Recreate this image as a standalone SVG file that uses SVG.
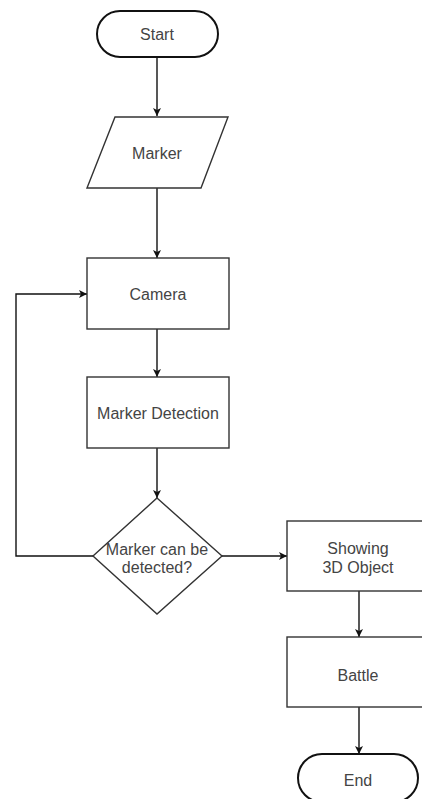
<svg xmlns="http://www.w3.org/2000/svg" width="422" height="799" viewBox="0 0 422 799">
<style>
.shape{fill:#ffffff;stroke:#333333;stroke-width:1.4}
.term{fill:#ffffff;stroke:#111111;stroke-width:2}
.lbl{font-family:"Liberation Sans",Arial,sans-serif;font-size:16px;fill:#444444;text-anchor:middle;dominant-baseline:central}
.edge{fill:none;stroke:#111111;stroke-width:1.4;marker-end:url(#ah)}
</style>
<defs>
<marker id="ah" viewBox="0 0 10 10" refX="10" refY="5" markerWidth="8" markerHeight="8" markerUnits="userSpaceOnUse" orient="auto">
<path d="M0,0 L10,5 L0,10 L2.5,5 z" fill="#111111"/>
</marker>
</defs>
<rect width="422" height="799" fill="#ffffff"/>
<g id="connectors">
<line class="edge" x1="157" y1="57" x2="157" y2="116"/>
<line class="edge" x1="157" y1="188" x2="157" y2="258"/>
<line class="edge" x1="157" y1="329" x2="157" y2="377"/>
<line class="edge" x1="157" y1="448" x2="157" y2="498"/>
<polyline class="edge" points="93,556 16,556 16,294 87,294"/>
<line class="edge" x1="222" y1="556" x2="287" y2="556"/>
<line class="edge" x1="359" y1="591" x2="359" y2="637"/>
<line class="edge" x1="359" y1="707" x2="359" y2="754"/>
</g>
<g id="start">
<rect class="term" x="97" y="11" width="121" height="46" rx="23" ry="23"/>
<text class="lbl" x="157" y="34">Start</text>
</g>
<g id="marker">
<polygon class="shape" points="115,117 228,117 201,188 87,188"/>
<text class="lbl" x="157" y="153">Marker</text>
</g>
<g id="camera">
<rect class="shape" x="87" y="258" width="142" height="71"/>
<text class="lbl" x="158" y="294">Camera</text>
</g>
<g id="detection">
<rect class="shape" x="87" y="377" width="142" height="71"/>
<text class="lbl" x="158" y="413">Marker Detection</text>
</g>
<g id="decision">
<polygon class="shape" points="157,498 222,556 157,614 93,556"/>
<text class="lbl" x="157" y="549">Marker can be</text>
<text class="lbl" x="157" y="567">detected?</text>
</g>
<g id="showing">
<rect class="shape" x="287" y="521" width="144" height="70"/>
<text class="lbl" x="358" y="548">Showing</text>
<text class="lbl" x="358" y="567">3D Object</text>
</g>
<g id="battle">
<rect class="shape" x="287" y="637" width="144" height="70"/>
<text class="lbl" x="358" y="675">Battle</text>
</g>
<g id="end">
<rect class="term" x="298" y="754" width="120" height="48" rx="24" ry="24"/>
<text class="lbl" x="358" y="780">End</text>
</g>
</svg>
